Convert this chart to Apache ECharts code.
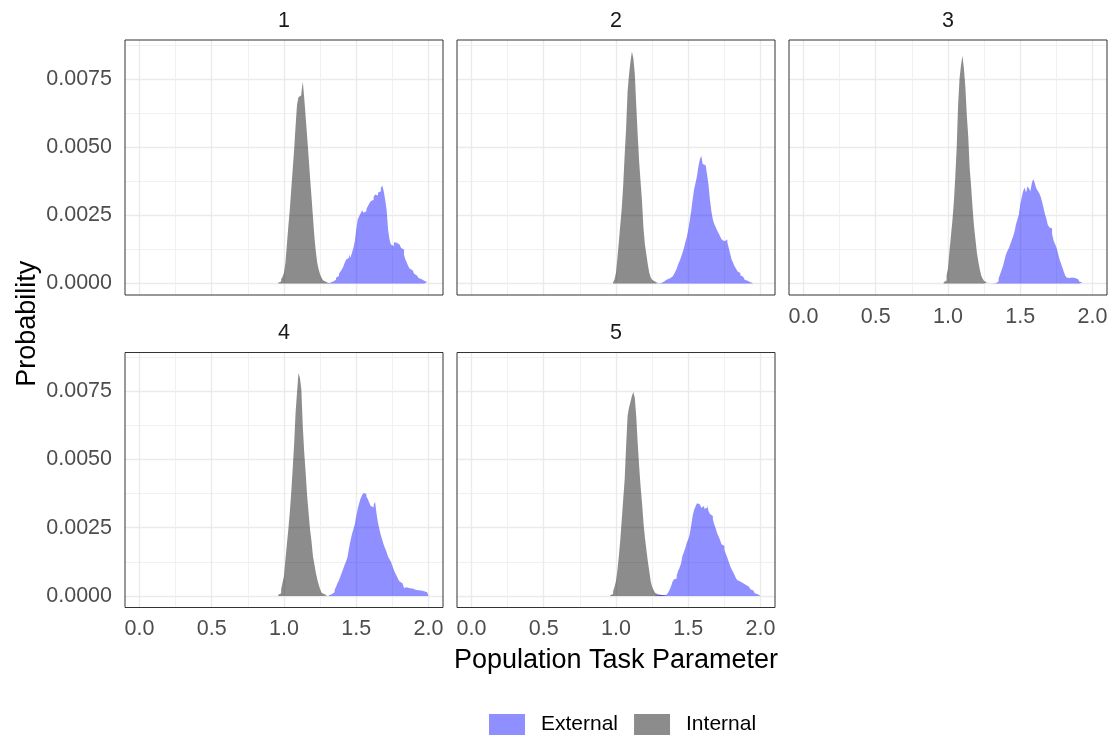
<!DOCTYPE html>
<html>
<head>
<meta charset="utf-8">
<script src="https://cdn.jsdelivr.net/npm/echarts@6/dist/echarts.min.js"></script>
<style>
  html, body { margin: 0; padding: 0; background: #ffffff; }
  #chart { width: 1113px; height: 738px; }
</style>
</head>
<body>
<div id="chart"></div>
<script>
// Histogram bins are 0.01 wide; heights are listed in units of 0.0001 probability.
const binWidth = 0.01;
const unit = 1e-4;

const facetLabels = ['1', '2', '3', '4', '5'];
const seriesNames = ['External', 'Internal'];

// Left edge of the first bin of each facet's histogram
const internalStarts = [0.96, 0.98, 0.97, 0.96, 0.96];
const externalStarts = [1.30, 1.29, 1.31, 1.31, 1.27];

const internal1 = [0.2, 0.7, 1.5, 2.4, 3.9, 7.6, 14.3, 21, 27, 34.4, 41.7, 49, 57.6, 65.5, 68.3, 69, 69.8, 74, 68, 61,
  54, 46.6, 39, 32, 24.6, 17.3, 11.8, 7.6, 5.1, 3.3, 2.1, 1.2, 0.6, 0.3, 0.1];
const external1 = [0.1, 0.2, 0.5, 0.7, 1.0, 1.3, 2.1, 2.7, 3.5, 4.3, 5.1, 6.1, 7.6, 8.8, 9.4, 10.6, 9.4, 11.2, 13, 15.5,
  19.8, 23.4, 24.6, 25.6, 26.8, 25.9, 26.5, 27.3, 28.3, 29.3, 30.1, 30.7, 31.7, 32.6, 32.2, 33.2, 33.8, 35, 35.9, 33.8,
  30.7, 27, 19.8, 16.1, 14.3, 13.7, 15.1, 14.9, 14.5, 14.3, 13.7, 13, 12.4, 10.6, 8.8, 7.6, 6.3, 5.4, 4.8, 4.1,
  3.5, 2.9, 2.4, 2.0, 1.6, 1.2, 1.0, 0.7, 0.5, 0.3];

const internal2 = [0.4, 1.5, 3.9, 9.4, 15.5, 21.6, 27.7, 36.2, 47.2, 57, 70.4, 76.5, 81.3, 85, 82.6, 77, 65.5, 54.5, 44.8, 37.4,
  30.1, 20.4, 14.3, 10.6, 7, 3.9, 2.3, 1.3, 0.7, 0.4, 0.1];
const external2 = [0.1, 0.1, 0.4, 0.6, 1, 1.3, 1.6, 1.8, 2.1, 2.4, 2.8, 3.3, 4.3, 5.5, 7, 8.2, 9.6, 11.2, 13, 15.2,
  17, 19.8, 23, 26.5, 30.7, 34.4, 36.8, 39.3, 42.9, 45.4, 46.8, 43.8, 43.3, 42.6, 39.9, 36.2, 30.7, 26.5, 23.4, 21.8,
  20.6, 19.4, 18.4, 17.3, 16.2, 15.5, 15.7, 16.1, 15.2, 13, 10.9, 8.8, 7.6, 6.3, 5.5, 4.5, 3.8, 3, 2.4, 1.8,
  1.3, 1, 0.6, 0.4, 0.2, 0.1];

const internal3 = [0.4, 1.1, 3, 5.5, 11.8, 17.3, 22.8, 29.5, 38.7, 49.6, 65.5, 75.2, 80.1, 83.5, 78.9, 72.2, 61.8, 53.9, 42.3, 35.6,
  27.7, 21, 16.1, 11.2, 7.9, 5.1, 2.9, 1.7, 0.9, 0.4, 0.1];
const external3 = [0.1, 0.1, 0.4, 0.7, 1.8, 3.3, 4.8, 6.3, 8.4, 10.4, 11.8, 12.8, 14.3, 15.7, 17.2, 18.9, 21.6, 23.4, 25.2, 28.9,
  31.6, 33.8, 35.2, 33.2, 35.6, 34.8, 33.8, 36.8, 38.3, 36.8, 35, 34, 33.2, 32, 30.1, 27.9, 25.5, 23.8, 21.6, 20.6,
  20.1, 18.2, 15.7, 14.5, 13.3, 11.2, 9.1, 7.6, 6, 4.5, 3, 2.2, 2, 2, 2.2, 2.1, 2, 1.8, 1.5, 1,
  0.6, 0.4, 0.1];

const internal4 = [0.4, 1, 2.4, 4.9, 7.3, 13.4, 19, 24.4, 30.6, 37.9, 46.5, 55.6, 67.2, 74.6, 81.7, 80, 75.8, 62.3, 52.6, 45.2,
  36.7, 30.6, 24.4, 20.2, 14.7, 11.6, 8.6, 6.1, 4.2, 2.4, 1.2, 0.6, 0.4, 0.2, 0.2];
const external4 = [0.2, 0.6, 0.9, 1.3, 2.2, 3.4, 4.6, 5.7, 7.1, 8.6, 10, 11.5, 12.7, 14.4, 17.7, 20.2, 22.6, 24.4, 26.3, 29.3,
  32, 34, 35.7, 36.9, 37.7, 37.4, 36.4, 35.5, 34.2, 33, 32.4, 33.3, 34.5, 30.3, 26.9, 24.4, 22.2, 20.5, 18.8, 17.4,
  16.1, 14.4, 13.4, 12.5, 11, 9.5, 8.3, 7.3, 6.1, 5.3, 4.6, 3.9, 2.9, 3.2, 2.7, 2.8, 2.4, 2.7, 2.2, 2.3,
  2, 2.1, 1.8, 2, 1.6, 1.7, 1.5, 1.3, 1.2];

const internal5 = [0.2, 0.7, 1.7, 3.4, 5.5, 9.5, 14.7, 20.8, 28.1, 35.5, 42.8, 55, 66, 69.1, 71.1, 73.3, 74.8, 72.7, 66, 56.2,
  47.7, 40.3, 34.2, 26.9, 21.4, 17.1, 12.8, 9.2, 5.5, 3.4, 2.2, 1.2, 0.6, 0.5, 0.4, 0.3, 0.2, 0.2, 0.1];
const external5 = [0.1, 0.2, 0.2, 0.3, 0.3, 0.3, 0.4, 0.4, 0.6, 1.2, 2.2, 3.4, 5.1, 6, 6.4, 7.6, 9.2, 10.3, 12, 14.7,
  16.1, 17.7, 19.6, 20.8, 22.6, 25.7, 29.3, 31.5, 32.8, 34, 33.6, 33, 32.3, 33, 32, 32.3, 33.3, 31.1, 30, 29.3,
  28.1, 26.2, 24.7, 23, 21.8, 20.5, 18.9, 18.3, 16.9, 15.4, 14.1, 12.5, 11, 9.8, 8.8, 7.7, 6.5, 5.7, 5.3, 4.9,
  4.6, 4.4, 4, 3.8, 3.4, 2.9, 2.4, 2, 1.5, 1, 0.6, 0.4, 0.1];

const internalData = [internal1, internal2, internal3, internal4, internal5];
const externalData = [external1, external2, external3, external4, external5];

// Axis breaks and labels
const xLimits = [0, 2];
const xTicks = [0, 0.5, 1, 1.5, 2];
const xMinorTicks = [0.25, 0.75, 1.25, 1.75];
const yTicks = [0, 0.0025, 0.005, 0.0075];
const yMinorTicks = [0.00125, 0.00375, 0.00625, 0.00875];

const FONT = '"Liberation Sans", Arial, Helvetica, sans-serif';
const COLORS = { External: 'rgba(0, 0, 255, 0.44)', Internal: 'rgba(0, 0, 0, 0.45)' };

// Panel layout: 3 columns, 2 rows, shared scales
const PANEL_W = 318, PANEL_H = 255;
const colLeft = [125, 457, 789];
const rowTop = [40, 352.5];
const NCOL = 3;

// Continuous scales padded by 5% on each side
const xPad = (xLimits[1] - xLimits[0]) * 0.05;
const xMin = xLimits[0] - xPad, xMax = xLimits[1] + xPad;
let yPeak = 0;
internalData.concat(externalData).forEach(arr => arr.forEach(v => { yPeak = Math.max(yPeak, v * unit); }));
const yMin = -0.05 * yPeak, yMax = 1.05 * yPeak;

function stepPoints(start, vals) {
  const pts = vals.map((v, k) => [+(start + k * binWidth).toFixed(4), v * unit]);
  pts.push([+(start + vals.length * binWidth).toFixed(4), 0]);
  return pts;
}

const grids = [], xAxes = [], yAxes = [], series = [], graphics = [];
const labelStyle = { color: '#4d4d4d', fontSize: 21.5, fontFamily: FONT };

facetLabels.forEach((lab, i) => {
  const col = i % NCOL, row = Math.floor(i / NCOL);
  const left = colLeft[col], top = rowTop[row];
  const nBelow = i + NCOL; // facet directly below
  const showX = nBelow >= facetLabels.length;
  const showY = col === 0;

  // panel frame sits above the grid lines
  grids.push({
    left: left, top: top, width: PANEL_W, height: PANEL_H, z: 1,
    show: true, borderColor: '#333333', borderWidth: 1, backgroundColor: 'transparent',
    containLabel: false, outerBoundsMode: 'none'
  });

  // major grid + labels
  xAxes.push({
    gridIndex: i, type: 'value', min: xMin, max: xMax, z: 0,
    axisLine: { show: false },
    axisTick: { show: false, customValues: xTicks },
    axisLabel: Object.assign({ show: showX, customValues: xTicks, margin: 11,
      formatter: v => v.toFixed(1) }, labelStyle),
    splitLine: { show: true, lineStyle: { color: '#ebebeb', width: 1.4 } }
  });
  // minor grid
  xAxes.push({
    gridIndex: i, type: 'value', min: xMin, max: xMax, z: 0,
    axisLine: { show: false },
    axisTick: { show: false, customValues: xMinorTicks },
    axisLabel: { show: false },
    splitLine: { show: true, lineStyle: { color: '#efefef', width: 0.9 } }
  });
  yAxes.push({
    gridIndex: i, type: 'value', min: yMin, max: yMax, position: 'left', z: 0,
    axisLine: { show: false },
    axisTick: { show: false, customValues: yTicks },
    axisLabel: Object.assign({ show: showY, customValues: yTicks, margin: 13,
      formatter: v => v.toFixed(4) }, labelStyle),
    splitLine: { show: true, lineStyle: { color: '#ebebeb', width: 1.4 } }
  });
  yAxes.push({
    gridIndex: i, type: 'value', min: yMin, max: yMax, position: 'left', z: 0,
    axisLine: { show: false },
    axisTick: { show: false, customValues: yMinorTicks },
    axisLabel: { show: false },
    splitLine: { show: true, lineStyle: { color: '#efefef', width: 0.9 } }
  });

  const addHist = (name, start, vals) => {
    series.push({
      name: name, type: 'line', step: 'end',
      xAxisIndex: 2 * i, yAxisIndex: 2 * i,
      data: stepPoints(start, vals),
      showSymbol: false, symbol: 'none', silent: true, clip: true,
      lineStyle: { width: 0, color: COLORS[name] },
      itemStyle: { color: COLORS[name] },
      areaStyle: { color: COLORS[name], opacity: 1 },
      z: 3
    });
  };
  addHist('Internal', internalStarts[i], internalData[i]);
  addHist('External', externalStarts[i], externalData[i]);

  // facet strip label
  graphics.push({
    type: 'text', x: left + PANEL_W / 2, y: top - 19,
    style: { text: lab, fill: '#1a1a1a', font: '21.5px ' + FONT, textAlign: 'center', textVerticalAlign: 'middle' }
  });
});

// Axis titles
graphics.push({
  type: 'text', x: 28, y: (rowTop[0] + rowTop[1] + PANEL_H) / 2, rotation: Math.PI / 2,
  style: { text: 'Probability', fill: '#000000', font: '27px ' + FONT, textAlign: 'center', textVerticalAlign: 'middle' }
});
graphics.push({
  type: 'text', x: (colLeft[0] + colLeft[2] + PANEL_W) / 2, y: 661,
  style: { text: 'Population Task Parameter', fill: '#000000', font: '27px ' + FONT, textAlign: 'center', textVerticalAlign: 'middle' }
});

const chart = echarts.init(document.getElementById('chart'), null, { renderer: 'canvas' });
chart.setOption({
  animation: false,
  backgroundColor: '#ffffff',
  grid: grids,
  xAxis: xAxes,
  yAxis: yAxes,
  series: series,
  graphic: graphics,
  legend: {
    data: seriesNames,
    left: 489, top: 714, padding: 0,
    orient: 'horizontal',
    icon: 'rect',
    itemWidth: 36, itemHeight: 21, itemGap: 16,
    selectedMode: false,
    textStyle: { color: '#000000', fontSize: 21, fontFamily: FONT, padding: [4, 0, 0, 11] }
  }
});
</script>
</body>
</html>
